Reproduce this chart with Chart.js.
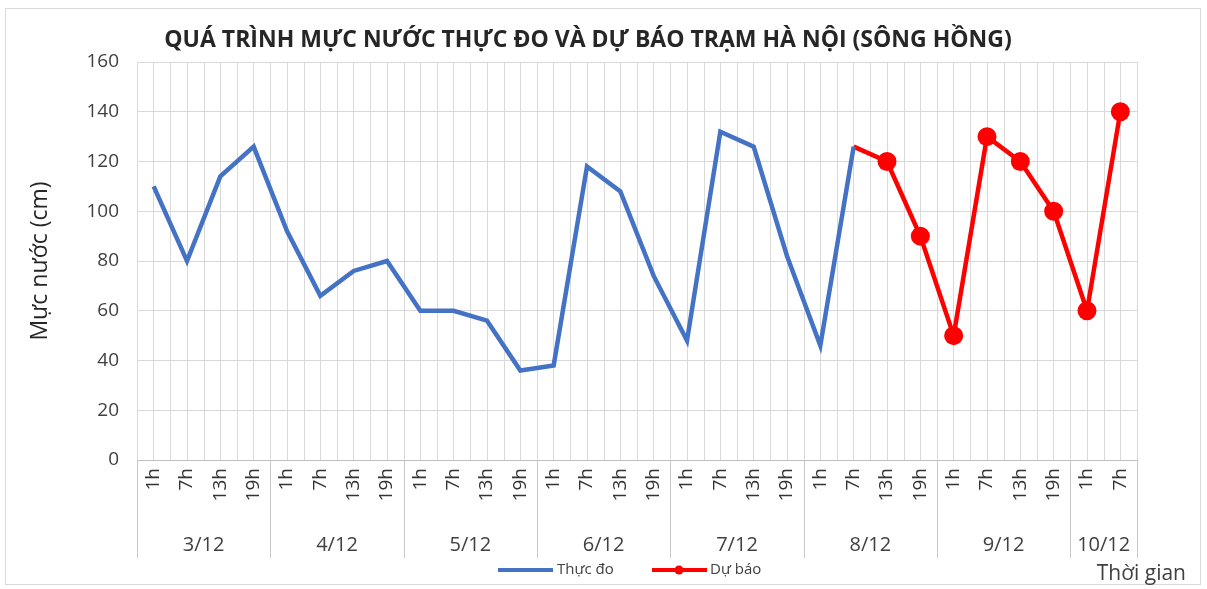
<!DOCTYPE html>
<html>
<head>
<meta charset="utf-8">
<script src="https://cdn.jsdelivr.net/npm/chart.js@4"></script>
<style>
  html, body { margin: 0; padding: 0; background: #fff; }
</style>
</head>
<body>
<canvas id="chart" width="1207" height="589"></canvas>
<script>
const titleText = 'QUÁ TRÌNH MỰC NƯỚC THỰC ĐO VÀ DỰ BÁO TRẠM HÀ NỘI (SÔNG HỒNG)';
const dates = ['3/12', '4/12', '5/12', '6/12', '7/12', '8/12', '9/12', '10/12'];
const hoursPerDate = [
    ['1h', '7h', '13h', '19h'],
    ['1h', '7h', '13h', '19h'],
    ['1h', '7h', '13h', '19h'],
    ['1h', '7h', '13h', '19h'],
    ['1h', '7h', '13h', '19h'],
    ['1h', '7h', '13h', '19h'],
    ['1h', '7h', '13h', '19h'],
    ['1h', '7h']
];
const hourLabels = hoursPerDate.flat();
// Thực đo (observed)
const measured = [110, 80, 114, 126, 92, 66, 76, 80, 60, 60, 56, 36, 38, 118, 108, 74, 48, 132, 126, 82, 46, 126];
// Dự báo (forecast), starts at the last observed point
const forecast = [null, null, null, null, null, null, null, null, null, null, null, null, null, null, null, null, null, null, null, null, null,
    126, 120, 90, 50, 130, 120, 100, 60, 140];
const forecastStart = forecast.findIndex(v => v !== null);

const blue = '#4472C4';
const red = '#FF0000';
const textColor = '#404040';
const font = '"Open Sans", "Liberation Sans", sans-serif';

const framePlugin = {
    id: 'frame',
    beforeDraw(chart) {
        const ctx = chart.ctx;
        ctx.save();
        ctx.fillStyle = '#fff';
        ctx.fillRect(0, 0, chart.width, chart.height);
        ctx.strokeStyle = '#D9D9D9';
        ctx.lineWidth = 1;
        ctx.strokeRect(5.5, 8.5, 1195, 576);
        ctx.restore();
    },
    beforeDatasetsDraw(chart) {
        // gridlines between categories
        const ctx = chart.ctx;
        const x = chart.scales.x;
        const { top, bottom } = chart.chartArea;
        ctx.save();
        ctx.strokeStyle = '#D9D9D9';
        ctx.lineWidth = 1;
        for (let i = 0; i <= hourLabels.length; i++) {
            const px = Math.round(x.getPixelForValue(i - 0.5)) + 0.5;
            ctx.beginPath();
            ctx.moveTo(px, top);
            ctx.lineTo(px, bottom);
            ctx.stroke();
        }
        ctx.restore();
    },
    afterDraw(chart) {
        const ctx = chart.ctx;
        const x = chart.scales.x;
        const { bottom } = chart.chartArea;
        ctx.save();

        // date groups
        ctx.strokeStyle = '#C8C8C8';
        ctx.lineWidth = 1;
        ctx.fillStyle = textColor;
        ctx.font = '20px ' + font;
        ctx.textAlign = 'center';
        ctx.textBaseline = 'middle';
        let start = 0;
        dates.forEach((d, gi) => {
            const end = start + hoursPerDate[gi].length;
            const x0 = x.getPixelForValue(start - 0.5);
            const x1 = x.getPixelForValue(end - 0.5);
            [x0, x1].forEach(px => {
                const p = Math.round(px) + 0.5;
                ctx.beginPath();
                ctx.moveTo(p, bottom);
                ctx.lineTo(p, 558);
                ctx.stroke();
            });
            ctx.fillText(d, (x0 + x1) / 2, 545);
            start = end;
        });

        // title
        ctx.fillStyle = '#262626';
        ctx.font = 'bold 23px ' + font;
        ctx.fillText(titleText, 588, 40);

        // axis title on the right
        ctx.fillStyle = textColor;
        ctx.font = '21px ' + font;
        ctx.textAlign = 'right';
        ctx.fillText('Thời gian', 1186, 574);

        // legend
        const ly = 570;
        ctx.lineCap = 'butt';
        ctx.lineWidth = 4;
        ctx.strokeStyle = blue;
        ctx.beginPath(); ctx.moveTo(498, ly); ctx.lineTo(553, ly); ctx.stroke();
        ctx.strokeStyle = red;
        ctx.beginPath(); ctx.moveTo(652, ly); ctx.lineTo(707, ly); ctx.stroke();
        ctx.fillStyle = red;
        ctx.beginPath(); ctx.arc(679, ly, 4.5, 0, Math.PI * 2); ctx.fill();
        ctx.fillStyle = textColor;
        ctx.font = '15px ' + font;
        ctx.textAlign = 'left';
        ctx.fillText(chart.data.datasets[0].label, 557, ly);
        ctx.fillText(chart.data.datasets[1].label, 710, ly);
        ctx.restore();
    }
};

new Chart(document.getElementById('chart'), {
    type: 'line',
    data: {
        labels: hourLabels,
        datasets: [
            {
                label: 'Thực đo',
                data: measured,
                borderColor: blue,
                backgroundColor: blue,
                borderWidth: 4.5,
                pointRadius: 0,
                tension: 0
            },
            {
                label: 'Dự báo',
                data: forecast,
                borderColor: red,
                backgroundColor: red,
                borderWidth: 4.5,
                pointRadius: ctx => ctx.dataIndex === forecastStart ? 0 : 9.5,
                pointBorderWidth: 0,
                tension: 0
            }
        ]
    },
    options: {
        responsive: false,
        animation: false,
        devicePixelRatio: 1,
        layout: { padding: { top: 62, right: 70, bottom: 31, left: 0 } },
        plugins: {
            legend: { display: false },
            tooltip: { enabled: false },
            title: { display: false }
        },
        scales: {
            x: {
                type: 'category',
                offset: true,
                grid: { color: '#D9D9D9', drawTicks: false, offset: false },
                border: { color: '#BFBFBF' },
                ticks: {
                    autoSkip: false,
                    minRotation: 90,
                    maxRotation: 90,
                    padding: 8,
                    color: '#333',
                    font: { family: font, size: 19 }
                },
                afterFit: s => { s.height = 98; }
            },
            y: {
                min: 0,
                max: 160,
                grid: { color: '#D9D9D9', drawTicks: false },
                border: { display: false },
                ticks: {
                    stepSize: 20,
                    padding: 18,
                    color: textColor,
                    font: { family: font, size: 19 }
                },
                title: {
                    display: true,
                    text: 'Mực nước (cm)',
                    color: '#262626',
                    font: { family: font, size: 23 },
                    padding: { top: 27, bottom: 0 }
                },
                afterFit: s => { s.width = 137; }
            }
        }
    },
    plugins: [framePlugin]
});
</script>
</body>
</html>
